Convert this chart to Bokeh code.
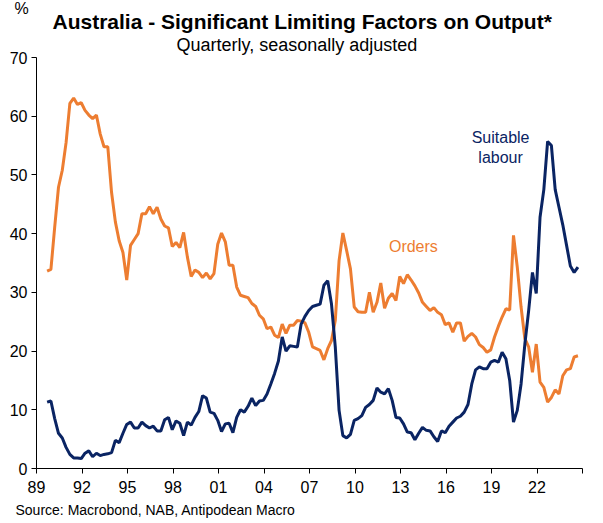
from bokeh.plotting import figure
from bokeh.models import Label, FixedTicker, Range1d, ColumnDataSource, Title
from bokeh.embed import file_html
from bokeh.resources import INLINE

# Quarterly data, starting 1989 Q3 (approx.)
start_year = 1989.7
orders = [
    33.6, 33.9, 41.1, 47.9, 50.8, 55.5, 62.2, 63.1, 62.0, 62.3,
    61.0, 60.2, 59.6, 60.2, 57.0, 54.8, 54.8, 47.0, 42.0, 38.8,
    36.8, 32.1, 38.0, 39.0, 40.0, 43.4, 43.4, 44.6, 43.4, 44.5,
    42.5, 41.3, 41.0, 37.8, 38.5, 37.6, 40.2, 36.0, 32.7, 33.8,
    33.4, 32.5, 33.3, 32.3, 33.2, 38.2, 40.1, 38.6, 34.6, 34.6,
    30.9, 29.5, 29.3, 29.1, 28.1, 27.6, 26.1, 25.5, 23.8, 24.1,
    22.7, 22.3, 24.6, 23.0, 24.4, 24.4, 25.2, 25.1, 24.8, 23.2,
    20.7, 20.4, 20.1, 18.5, 20.4, 21.8, 25.2, 35.4, 40.1, 37.1,
    34.0, 27.5, 26.7, 26.6, 26.6, 30.0, 26.6, 28.3, 31.6, 27.3,
    29.0, 29.8, 28.6, 32.7, 31.5, 33.0, 32.1, 31.1, 29.9, 28.3,
    27.6, 26.9, 27.4, 26.6, 26.2, 24.5, 24.8, 23.2, 24.8, 24.8,
    21.7, 22.5, 23.0, 22.4, 21.1, 20.6, 19.8, 20.2, 22.4, 24.2,
    25.8, 27.2, 27.0, 39.7, 34.3, 27.5, 22.1, 20.7, 16.4, 21.2,
    14.7, 13.8, 11.3, 12.1, 13.4, 12.7, 15.8, 16.8, 17.0, 19.0,
    19.2,
]
labour = [
    11.3, 11.5, 8.5, 6.0, 5.2, 3.6, 2.4, 1.8, 1.8, 1.7,
    2.6, 3.0, 2.0, 2.6, 2.2, 2.4, 2.5, 2.7, 4.8, 4.4,
    6.0, 7.5, 7.9, 6.9, 6.9, 7.9, 7.3, 6.9, 7.2, 6.4,
    6.4, 8.3, 8.7, 6.6, 8.1, 7.7, 5.6, 7.9, 7.4, 8.7,
    9.7, 12.4, 12.0, 9.6, 9.4, 8.2, 6.3, 7.6, 7.7, 6.1,
    8.7, 10.0, 9.6, 10.6, 12.0, 10.7, 11.5, 11.6, 12.7, 14.4,
    16.2, 18.3, 22.4, 20.0, 20.9, 20.8, 20.7, 24.6, 25.9, 26.9,
    27.6, 27.8, 28.0, 31.2, 32.0, 28.0, 20.7, 9.9, 5.6, 5.2,
    5.8, 8.2, 8.5, 9.0, 10.4, 10.9, 11.6, 13.7, 13.0, 12.7,
    13.6, 11.6, 8.7, 8.6, 7.6, 6.2, 6.1, 4.9, 6.0, 7.0,
    6.5, 6.4, 5.4, 4.6, 6.4, 6.1, 7.2, 7.9, 8.6, 8.9,
    9.6, 10.9, 14.4, 16.8, 17.3, 17.0, 17.0, 18.1, 18.4, 18.1,
    19.8, 18.7, 15.0, 7.9, 9.9, 14.4, 21.2, 26.9, 33.4, 29.8,
    42.8, 47.5, 55.7, 55.0, 47.5, 44.5, 41.5, 38.0, 34.5, 33.4,
    34.3,
]
years = [start_year + 0.25 * i for i in range(len(orders))]

x_ticks = [1989, 1992, 1995, 1998, 2001, 2004, 2007, 2010, 2013, 2016, 2019, 2022, 2025]
x_tick_labels = ["89", "92", "95", "98", "01", "04", "07", "10", "13", "16", "19", "22", ""]
y_ticks = [0, 10, 20, 30, 40, 50, 60, 70]

title_text = "Australia - Significant Limiting Factors on Output*"
subtitle_text = "Quarterly,  seasonally adjusted"
source_text = "Source: Macrobond, NAB, Antipodean Macro"
unit_text = "%"

ORANGE = "#ED7D31"
NAVY = "#0A2463"
FONT = "Liberation Sans"

src = ColumnDataSource(dict(x=years, orders=orders, labour=labour))

p = figure(width=603, height=523, output_backend="svg", toolbar_location=None,
           x_range=Range1d(1989, 2025), y_range=Range1d(0, 70),
           min_border_left=36, min_border_right=21, min_border_top=57, min_border_bottom=55,
           title_location=None)
p.outline_line_color = None
p.xgrid.visible = False
p.ygrid.visible = False
p.background_fill_color = "white"
p.border_fill_color = "white"

p.line("x", "orders", source=src, line_color=ORANGE, line_width=3)
p.line("x", "labour", source=src, line_color=NAVY, line_width=3)

xa = p.xaxis[0]
xa.ticker = FixedTicker(ticks=x_ticks)
xa.major_label_overrides = {t: l for t, l in zip(x_ticks, x_tick_labels)}
xa.minor_tick_line_color = None
xa.major_tick_out = 5
xa.major_tick_in = 0
xa.major_label_standoff = 7
xa.axis_line_color = "black"
xa.major_tick_line_color = "black"
xa.major_label_text_font = FONT
xa.major_label_text_font_size = "16px"
xa.major_label_text_color = "black"

ya = p.yaxis[0]
ya.ticker = FixedTicker(ticks=y_ticks)
ya.minor_tick_line_color = None
ya.major_tick_out = 5
ya.major_tick_in = 0
ya.major_label_standoff = 4
ya.axis_line_color = "black"
ya.major_tick_line_color = "black"
ya.major_label_text_font = FONT
ya.major_label_text_font_size = "16px"
ya.major_label_text_color = "black"

# Titles (first added -> nearest to the frame)
p.add_layout(Title(text=subtitle_text, align="left", text_font=FONT, text_font_size="18px",
                   text_font_style="normal", text_color="black", standoff=4, offset=140,
                   vertical_align="middle"), "above")
p.add_layout(Title(text=title_text, align="left", text_font=FONT, text_font_size="21px",
                   text_font_style="bold", text_color="black", standoff=-5, offset=16,
                   vertical_align="middle"), "above")
p.add_layout(Title(text=unit_text, align="left", text_font=FONT, text_font_size="16px",
                   text_font_style="normal", text_color="black", standoff=-23, offset=-22,
                   vertical_align="top"), "above")
p.add_layout(Title(text=source_text, align="left", text_font=FONT, text_font_size="14px",
                   text_font_style="normal", text_color="black", standoff=8, offset=-21), "below")

def add_label(x, y, text, size, color="black"):
    p.add_layout(Label(x=x, y=y, text=text, text_font=FONT, text_font_size=size,
                       text_color=color, text_align="center", text_baseline="middle"))

add_label(2013.85, 37.8, "Orders", "16px", color=ORANGE)
add_label(2019.6, 56.4, "Suitable", "16px", color=NAVY)
add_label(2019.6, 53.0, "labour", "16px", color=NAVY)

open("out.html", "w").write(file_html(p, INLINE))
